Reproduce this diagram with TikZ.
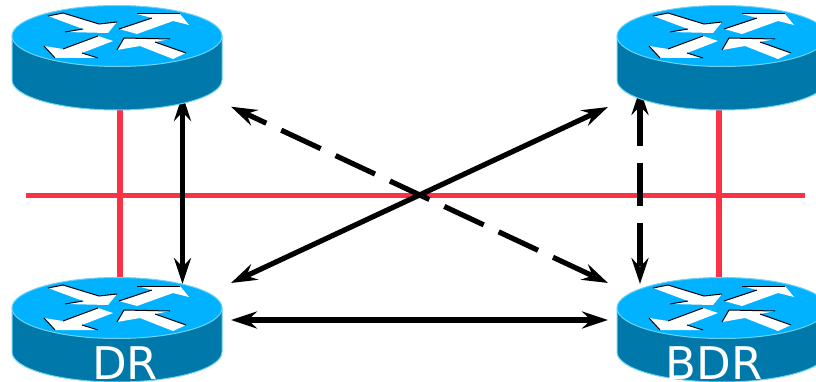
\documentclass[tikz,border=0pt]{standalone}
\usepackage{fontspec}
\setmainfont{DejaVu Sans}
\usetikzlibrary{arrows.meta}
\definecolor{rtop}{RGB}{0,178,255}
\definecolor{rside}{RGB}{0,120,170}
\definecolor{redge}{RGB}{110,210,240}
\definecolor{lanred}{RGB}{250,50,70}
\tikzset{
 x=1pt,y=-1pt,
 lan/.style={draw=lanred,line width=5.3pt},
 link/.style={draw=black,line width=5.2pt,{Stealth[length=26pt,width=17pt,inset=9pt]}-{Stealth[length=26pt,width=17pt,inset=9pt]}},
 dashlink/.style={link,dash pattern=on 43.5pt off 16.5pt},
 rlabel/.style={text=white,inner sep=0pt,font=\fontsize{45}{45}\selectfont,anchor=base},
 rbox/.style={inner sep=0pt,minimum width=210pt,minimum height=105pt},
 arrowfill/.style={fill=white,draw=none},
 arrowedge/.style={draw=black,line width=1pt},
 pics/router/.style={code={
  \path[fill=rside,draw=redge,line width=1pt] (12,36) -- (12,80)
     arc[start angle=180,end angle=360,x radius=105pt,y radius=30pt] -- (222,36) -- cycle;
  \path[fill=rtop,draw=redge,line width=1pt] (117,36) ellipse [x radius=105pt,y radius=30.5pt];
  \path[arrowfill] (48,16)--(63,13)--(99,24)--(117,22)--(108,33)--(65,32)--(83,29)--cycle;
  \path[arrowfill] (119,29)--(152,18)--(137,14)--(180,14)--(189,25)--(173,21)--(137,34)--cycle;
  \path[arrowfill] (44,46)--(63,49)--(98,36)--(113,41)--(82,53)--(98,58)--(55,58)--cycle;
  \path[arrowfill] (117,50)--(124,38)--(170,39)--(155,42)--(186,53)--(173,59)--(140,46)--cycle;
  \path[arrowedge] (48,16)--(63,13)--(99,24)--(117,22);
  \path[arrowedge] (65,32)--(83,29);
  \path[arrowedge] (119,29)--(152,18);
  \path[arrowedge] (137,14)--(180,14);
  \path[arrowedge] (63,49)--(98,36);
  \path[arrowedge] (44,46)--(55,58);
  \path[arrowedge] (82,53)--(98,58);
  \path[arrowedge] (117,50)--(124,38)--(170,39);
  \path[arrowedge] (155,42)--(186,53);
 }}
}
\begin{document}
\begin{tikzpicture}
\useasboundingbox (0,0) rectangle (816,382);
\clip (0,0) rectangle (816,382);
% routers as named boxes
\node[rbox] (rA) at (117,58) {};
\node[rbox] (rB) at (722,58) {};
\node[rbox] (rC) at (117,330) {};
\node[rbox] (rD) at (722,330) {};
% LAN
\coordinate (lanL) at (26,195.5);
\coordinate (lanR) at (805,195.5);
\coordinate (aDrop) at (120,100);
\coordinate (cDrop) at (120,285);
\coordinate (bDrop) at (719,100);
\coordinate (dDrop) at (719,285);
\draw[lan] (lanL) -- (lanR);
\draw[lan] (aDrop) -- (cDrop);
\draw[lan] (bDrop) -- (dDrop);
% adjacency end points
\coordinate (a1) at (182.5,95);
\coordinate (c1) at (182.5,284);
\coordinate (a2) at (231,106.7);
\coordinate (d2) at (608,283);
\coordinate (c2) at (231,283);
\coordinate (b2) at (608,107);
\coordinate (c3) at (231,320);
\coordinate (d3) at (608,320);
\coordinate (b4) at (640,89);
\coordinate (d4) at (640,284);
\draw[link] (a1) -- (c1);
\draw[link] (c2) -- (b2);
\draw[link] (c3) -- (d3);
\draw[dashlink,dash phase=19.5pt] (a2) -- (d2);
\draw[dashlink,dash phase=1pt] (b4) -- (d4);
\pic at (0,0) {router};
\pic at (605,0) {router};
\pic at (0,272) {router};
\pic at (605,272) {router};
\node[rlabel] (drlabel) at (125,379) {DR};
\node[rlabel] (bdrlabel) at (714,379) {BDR};
\end{tikzpicture}
\end{document}
